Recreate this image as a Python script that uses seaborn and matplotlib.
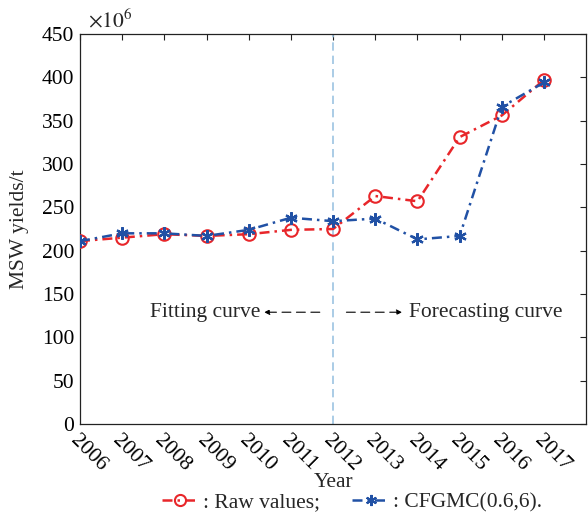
import matplotlib
matplotlib.use("Agg")
import matplotlib.pyplot as plt
import seaborn as sns
import pandas as pd
from matplotlib.lines import Line2D

years = [2006, 2007, 2008, 2009, 2010, 2011, 2012, 2013, 2014, 2015, 2016, 2017]
raw_values = [211, 215, 219, 217, 219, 224, 225, 263, 257, 331, 356, 397]
cfgmc_values = [211, 220, 220, 217, 224, 238, 234, 237, 213, 217, 366, 394]
yticks = [0, 50, 100, 150, 200, 250, 300, 350, 400, 450]

sns.set_theme(style="white")
plt.rcParams['font.family'] = ['Liberation Serif', 'DejaVu Serif']
plt.rcParams['mathtext.fontset'] = 'stix'

df = pd.DataFrame({"Year": years, "Raw": raw_values, "CFGMC": cfgmc_values})

fig = plt.figure(figsize=(5.88, 5.14), dpi=100)
ax = fig.add_axes([0.136, 0.175, 0.861, 0.759])

red = "#e8262a"
blue = "#2151a5"
ls = (0, (4, 2, 1, 2))
fs = 15.5

sns.lineplot(data=df, x="Year", y="Raw", ax=ax, color=red, linestyle=ls,
             linewidth=1.8, marker="o", markersize=9, markerfacecolor="none",
             markeredgecolor=red, markeredgewidth=1.5, zorder=3)
sns.lineplot(data=df, x="Year", y="CFGMC", ax=ax, color=blue, linestyle=ls,
             linewidth=1.8, marker=(6, 2, 0), markersize=9,
             markeredgecolor=blue, markeredgewidth=1.6, zorder=4)

ax.axvline(2012, color="#9cc3e2", linestyle=(0, (5, 3)), linewidth=1.2, zorder=1)

ax.set_xlim(2006, 2018)
ax.set_ylim(0, 450)
ax.set_xticks(years)
ax.set_xticklabels([str(y) for y in years], rotation=-45, ha="left", va="top",
                   rotation_mode="anchor")
ax.set_yticks(yticks)
ax.tick_params(direction="in", length=4, labelsize=fs, top=True, right=True,
               color="#222222", width=0.8, pad=4, labelcolor="black")
ax.tick_params(axis="x", pad=5)
for s in ax.spines.values():
    s.set_color("#222222")
    s.set_linewidth(0.9)

ax.set_xlabel("Year", fontsize=fs)
ax.xaxis.set_label_coords(0.5, -0.151)
ax.xaxis.label.set_va("center")
ax.set_ylabel("MSW yields/t", fontsize=fs)
ax.yaxis.set_label_coords(-0.12, 0.5)
ax.yaxis.label.set_va("center")
ax.text(0.015, 1.005, r"$\times10^6$", transform=ax.transAxes, fontsize=fs,
        ha="left", va="bottom")

# annotations
ax.text(2007.65, 129, "Fitting curve", fontsize=fs, ha="left", va="center")
ax.annotate("", xy=(2010.3, 129), xytext=(2011.75, 129),
            arrowprops=dict(arrowstyle="-|>", linestyle=(0, (8, 5)), color="black",
                            lw=0.8, mutation_scale=8))
ax.text(2013.8, 129, "Forecasting curve", fontsize=fs, ha="left", va="center")
ax.annotate("", xy=(2013.7, 129), xytext=(2012.25, 129),
            arrowprops=dict(arrowstyle="-|>", linestyle=(0, (8, 5)), color="black",
                            lw=0.8, mutation_scale=8))

handles = [
    Line2D([], [], color=red, linestyle=ls, linewidth=1.8, marker="o",
           markersize=8, markerfacecolor="none", markeredgecolor=red, markeredgewidth=1.5),
    Line2D([], [], color=blue, linestyle=ls, linewidth=1.8, marker=(6, 2, 0),
           markersize=8, markeredgecolor=blue, markeredgewidth=1.5),
]
fig.legend(handles, [": Raw values;", ": CFGMC(0.6,6)."], loc="center",
           bbox_to_anchor=(0.599, 0.023), ncol=2, frameon=False, fontsize=fs,
           handlelength=1.7, handletextpad=0.2, columnspacing=1.5,
           borderpad=0, borderaxespad=0)

fig.savefig("out.png", dpi=100)
